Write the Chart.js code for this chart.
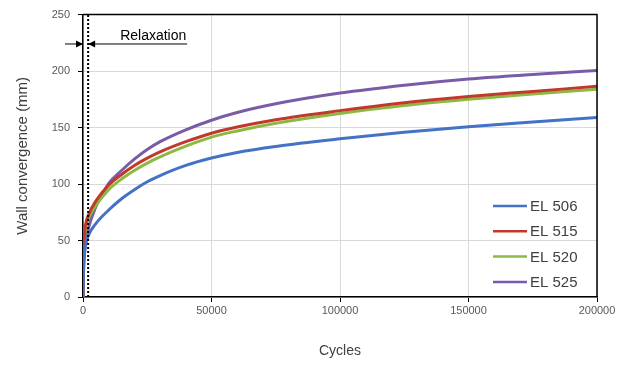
<!DOCTYPE html>
<html>
<head>
<meta charset="utf-8">
<script src="https://cdn.jsdelivr.net/npm/chart.js@4"></script>
<style>
  body { margin: 0; background: #fff; }
  #wrap { width: 629px; height: 365px; }
</style>
</head>
<body>
<div id="wrap"><canvas id="chart" width="629" height="365"></canvas></div>
<script>
// valores
const cycles = [0, 200, 500, 1000, 2000, 5000, 10000, 15000, 20000, 25000, 30000, 40000, 50000, 60000, 75000, 100000, 125000, 150000, 175000, 200000];
const el506 = [0, 24, 36, 46, 54, 65, 77, 87, 95, 102, 107.5, 116.5, 123, 128, 133.3, 140, 145.8, 150.8, 155, 159];
const el515 = [0, 34, 53, 64, 72, 85, 99, 108.5, 116.5, 123, 128.5, 137.5, 145, 150.5, 157, 165, 172, 177.5, 182, 186.5];
const el520 = [0, 32, 50, 61, 69, 81, 95, 104.5, 112, 118.5, 124, 133.5, 141.5, 147, 153.8, 162.5, 169.5, 175, 179.8, 184];
const el525 = [0, 20, 36, 48, 60, 80, 100.5, 112, 122, 130.5, 137.5, 148, 156.5, 163.3, 171, 180.5, 187.5, 193, 197, 200.5];
const seriesNames = ["EL 506", "EL 515", "EL 520", "EL 525"];
const seriesColors = ["#4472c4", "#c0392b", "#8db843", "#7a5ba8"];
const relaxationEnd = 2000;
const relaxationLevel = 224;

const font = "'Liberation Sans', Arial, sans-serif";

function pontos(arr) {
  return cycles.map((c, i) => ({ x: c, y: arr[i] }));
}

// plugin para borda, linha pontilhada, anotação e legenda interna
const extras = {
  id: "extras",
  afterDatasetsDraw(chart) {
    const ctx = chart.ctx;
    const area = chart.chartArea;
    const xs = chart.scales.x;
    const ys = chart.scales.y;
    ctx.save();

    // linha pontilhada do fim da relaxação
    const xd = xs.getPixelForValue(relaxationEnd);
    ctx.strokeStyle = "#000";
    ctx.lineWidth = 2;
    ctx.setLineDash([2, 2]);
    ctx.beginPath();
    ctx.moveTo(xd, area.bottom);
    ctx.lineTo(xd, area.top);
    ctx.stroke();
    ctx.setLineDash([]);

    // setas "Relaxation"
    const x0 = xs.getPixelForValue(0);
    const ya = ys.getPixelForValue(relaxationLevel);
    ctx.lineWidth = 1;
    ctx.beginPath();
    ctx.moveTo(x0 - 18, ya);
    ctx.lineTo(x0, ya);
    ctx.moveTo(xd, ya);
    ctx.lineTo(xd + 99, ya);
    ctx.stroke();
    ctx.fillStyle = "#000";
    ctx.beginPath();
    ctx.moveTo(x0, ya);
    ctx.lineTo(x0 - 7, ya - 3.5);
    ctx.lineTo(x0 - 7, ya + 3.5);
    ctx.closePath();
    ctx.fill();
    ctx.beginPath();
    ctx.moveTo(xd, ya);
    ctx.lineTo(xd + 7, ya - 3.5);
    ctx.lineTo(xd + 7, ya + 3.5);
    ctx.closePath();
    ctx.fill();
    ctx.font = "14px " + font;
    ctx.textBaseline = "bottom";
    ctx.textAlign = "left";
    ctx.fillText("Relaxation", xd + 32, ya - 1);

    // borda superior e direita
    ctx.lineWidth = 1.5;
    ctx.strokeStyle = "#000";
    ctx.beginPath();
    ctx.moveTo(area.left, area.top);
    ctx.lineTo(area.right, area.top);
    ctx.lineTo(area.right, area.bottom);
    ctx.stroke();

    // legenda
    ctx.font = "15px " + font;
    ctx.textBaseline = "middle";
    chart.data.datasets.forEach((ds, i) => {
      const ly = area.bottom - 91 + i * 25.3;
      const lx = area.right - 104;
      ctx.strokeStyle = ds.borderColor;
      ctx.lineWidth = 2.5;
      ctx.beginPath();
      ctx.moveTo(lx, ly);
      ctx.lineTo(lx + 34, ly);
      ctx.stroke();
      ctx.fillStyle = "#404040";
      ctx.fillText(ds.label, lx + 37, ly + 1);
    });
    ctx.restore();
  }
};

const datasets = [el506, el515, el520, el525].map((arr, i) => ({
  label: seriesNames[i],
  data: pontos(arr),
  borderColor: seriesColors[i],
  backgroundColor: seriesColors[i],
  borderWidth: 3,
  pointRadius: 0,
  cubicInterpolationMode: "monotone",
  fill: false
}));

new Chart(document.getElementById("chart"), {
  type: "line",
  data: { datasets },
  options: {
    responsive: false,
    animation: false,
    layout: { padding: { top: 13, right: 32, left: 0, bottom: 0 } },
    plugins: { legend: { display: false }, tooltip: { enabled: false } },
    scales: {
      x: {
        type: "linear",
        min: 0,
        max: 200000,
        afterFit(s) { s.height = 68; },
        ticks: {
          stepSize: 50000, color: "#595959", font: { family: font, size: 11 }, padding: 2, maxRotation: 0,
          callback: v => String(v)
        },
        grid: { color: "#d9d9d9", tickColor: "#000", tickLength: 5 },
        border: { color: "#000", width: 1.5 },
        title: { display: true, text: "Cycles", color: "#404040", font: { family: font, size: 14 }, padding: { top: 2, bottom: 5 } }
      },
      y: {
        min: 0,
        max: 250,
        afterFit(s) { s.width = 83; },
        ticks: { stepSize: 50, color: "#595959", font: { family: font, size: 11 }, padding: 8 },
        grid: { color: "#d9d9d9", tickColor: "#000", tickLength: 5 },
        border: { color: "#000", width: 1.5 },
        title: { display: true, text: "Wall convergence (mm)", color: "#404040", font: { family: font, size: 15 }, padding: { top: 14, bottom: 0 } }
      }
    }
  },
  plugins: [extras]
});
</script>
</body>
</html>
